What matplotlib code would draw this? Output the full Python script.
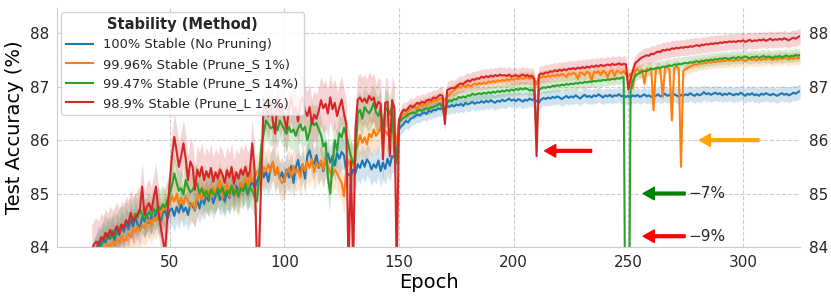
import numpy as np
import matplotlib.pyplot as plt


# data collect (test accuracy per epoch, epochs 16..325)
epochs = np.arange(16, 326)

labels = ["100% Stable (No Pruning)", "99.96% Stable (Prune_S 1%)",
          "99.47% Stable (Prune_S 14%)", "98.9% Stable (Prune_L 14%)"]
colors = ["#1f77b4", "#ff7f0e", "#2ca02c", "#d62728"]

acc_no_pruning = [
    83.70, 83.85, 83.95, 84.10, 84.02, 84.18, 84.08, 84.25, 84.15, 84.30,
    84.12, 84.35, 84.22, 84.40, 84.28, 84.45, 84.33, 84.52, 84.38, 84.57,
    84.42, 84.35, 84.55, 84.48, 84.62, 84.45, 84.58, 84.50, 84.66, 84.55,
    84.48, 84.62, 84.70, 84.52, 84.68, 84.72, 84.58, 84.75, 84.64, 84.80,
    84.66, 84.74, 84.60, 84.82, 84.76, 84.68, 84.88, 84.72, 84.92, 84.80,
    84.95, 84.86, 85.00, 84.82, 84.95, 85.05, 84.88, 84.98, 84.85, 85.02,
    84.92, 85.10, 84.96, 85.15, 85.02, 85.20, 85.05, 85.18, 84.98, 85.12,
    85.25, 85.08, 85.22, 85.35, 85.50, 85.30, 85.42, 85.22, 85.48, 85.57,
    85.35, 85.45, 85.28, 85.40, 85.22, 85.45, 85.30, 85.52, 85.20, 85.48,
    85.63, 85.40, 85.55, 85.28, 85.70, 85.81, 85.62, 85.55, 85.72, 85.48,
    85.60, 85.42, 85.66, 85.75, 85.58, 85.70, 85.52, 85.76, 85.65, 85.78,
    85.72, 85.40, 85.36, 85.32, 85.45, 85.38, 85.55, 85.48, 85.62, 85.50,
    85.64, 85.58, 85.45, 85.55, 85.48, 85.62, 85.42, 85.58, 85.46, 85.65,
    85.52, 85.70, 85.68, 85.72, 86.20, 86.26, 86.30, 86.36, 86.33, 86.40,
    86.42, 86.45, 86.48, 86.46, 86.50, 86.52, 86.49, 86.55, 86.53, 86.57,
    86.56, 86.60, 86.58, 86.62, 86.60, 86.64, 86.62, 86.66, 86.63, 86.67,
    86.65, 86.68, 86.64, 86.70, 86.67, 86.69, 86.72, 86.68, 86.71, 86.70,
    86.73, 86.70, 86.74, 86.71, 86.75, 86.72, 86.70, 86.74, 86.72, 86.76,
    86.73, 86.75, 86.78, 86.74, 86.76, 86.73, 86.77, 86.75, 86.72, 86.76,
    86.74, 86.78, 86.75, 86.77, 86.73, 86.70, 86.76, 86.79, 86.77, 86.80,
    86.78, 86.81, 86.79, 86.82, 86.80, 86.77, 86.80, 86.83, 86.79, 86.82,
    86.80, 86.84, 86.81, 86.78, 86.82, 86.85, 86.81, 86.83, 86.80, 86.84,
    86.82, 86.86, 86.83, 86.80, 86.84, 86.82, 86.85, 86.81, 86.84, 86.83,
    86.86, 86.82, 86.84, 86.81, 86.83, 86.80, 86.84, 86.82, 86.85, 86.81,
    86.83, 86.86, 86.82, 86.84, 86.81, 86.85, 86.83, 86.86, 86.82, 86.84,
    86.87, 86.83, 86.85, 86.82, 86.86, 86.84, 86.81, 86.85, 86.83, 86.86,
    86.84, 86.88, 86.85, 86.83, 86.87, 86.84, 86.86, 86.90, 86.86, 86.88,
    86.85, 86.87, 86.89, 86.86, 86.88, 86.84, 86.87, 86.85, 86.88, 86.86,
    86.84, 86.87, 86.85, 86.89, 86.86, 86.83, 86.87, 86.85, 86.88, 86.84,
    86.86, 86.83, 86.87, 86.85, 86.88, 86.86, 86.84, 86.87, 86.85, 86.83,
    86.86, 86.88, 86.85, 86.87, 86.84, 86.86, 86.89, 86.87, 86.90, 86.92,
]

acc_prune_s1 = [
    83.50, 83.65, 83.75, 83.82, 83.90, 84.00, 83.95, 84.05, 84.00, 84.10,
    84.02, 84.15, 84.08, 84.20, 84.12, 84.13, 84.25, 84.18, 84.32, 84.28,
    84.38, 84.30, 84.42, 84.35, 84.45, 84.52, 84.40, 84.55, 84.48, 84.62,
    84.58, 84.76, 84.70, 84.88, 84.82, 84.95, 84.85, 85.00, 84.78, 84.92,
    84.80, 84.95, 84.86, 84.75, 84.82, 84.70, 84.90, 85.00, 84.88, 85.07,
    84.96, 85.05, 84.92, 85.12, 84.98, 85.15, 85.25, 84.90, 85.10, 85.18,
    84.95, 85.08, 85.15, 85.02, 84.95, 85.20, 85.10, 85.28, 85.14, 85.38,
    85.22, 85.30, 85.40, 85.44, 85.32, 85.50, 85.42, 85.55, 85.40, 85.60,
    85.35, 85.50, 85.28, 85.19, 85.25, 85.40, 85.48, 85.30, 85.52, 85.38,
    85.45, 85.30, 85.55, 85.42, 85.60, 85.48, 85.65, 85.40, 85.58, 85.50,
    85.62, 85.45, 85.68, 85.52, 85.40, 85.33, 85.45, 85.38, 85.28, 85.20,
    84.95, 85.45, 85.58, 85.64, 85.52, 85.75, 85.90, 86.10, 85.95, 86.05,
    85.92, 86.12, 86.05, 86.20, 86.08, 86.15, 86.25, 86.05, 86.18, 86.10,
    86.22, 86.15, 86.20, 85.90, 86.39, 86.45, 86.50, 86.48, 86.55, 86.58,
    86.60, 86.62, 86.58, 86.67, 86.64, 86.68, 86.66, 86.72, 86.70, 86.75,
    86.73, 86.76, 86.78, 86.80, 86.74, 86.82, 86.86, 86.90, 86.93, 86.97,
    87.00, 86.98, 87.02, 87.00, 87.04, 87.01, 87.03, 87.06, 87.04, 87.07,
    87.05, 87.08, 87.06, 87.10, 87.08, 87.11, 87.09, 87.12, 87.10, 87.13,
    87.11, 87.14, 87.12, 87.15, 87.13, 87.16, 87.14, 87.17, 87.15, 87.16,
    87.18, 87.15, 87.17, 87.14, 87.04, 87.19, 87.17, 87.20, 87.18, 87.21,
    87.19, 87.22, 87.20, 87.23, 87.21, 87.24, 87.22, 87.18, 87.25, 87.23,
    87.26, 87.24, 87.15, 87.27, 87.25, 87.22, 87.28, 87.26, 87.12, 87.28,
    87.26, 87.29, 87.22, 87.30, 87.27, 87.18, 87.29, 87.31, 87.20, 87.30,
    87.28, 87.25, 87.30, 87.22, 87.19, 87.25, 86.97, 87.30, 87.33, 87.28,
    87.32, 87.06, 87.34, 87.31, 87.35, 86.56, 87.33, 87.36, 87.32, 86.81,
    87.34, 87.37, 87.33, 86.37, 87.35, 87.38, 87.34, 85.50, 87.30, 87.33,
    87.36, 87.38, 87.40, 87.42, 87.41, 87.44, 87.43, 87.45, 87.44, 87.47,
    87.45, 87.47, 87.46, 87.48, 87.47, 87.49, 87.48, 87.50, 87.49, 87.50,
    87.48, 87.51, 87.49, 87.52, 87.50, 87.48, 87.51, 87.53, 87.50, 87.52,
    87.49, 87.52, 87.50, 87.53, 87.51, 87.54, 87.52, 87.50, 87.53, 87.51,
    87.54, 87.52, 87.55, 87.53, 87.51, 87.54, 87.52, 87.55, 87.53, 87.55,
]

acc_prune_s14 = [
    83.60, 83.75, 83.85, 83.92, 84.02, 84.10, 84.26, 84.15, 84.22, 84.18,
    84.30, 84.24, 84.35, 84.42, 84.38, 84.50, 84.44, 84.58, 84.48, 84.62,
    84.55, 84.70, 84.60, 84.52, 84.57, 84.66, 84.58, 84.72, 84.64, 84.76,
    84.70, 84.80, 84.74, 84.88, 85.00, 85.15, 85.38, 85.20, 85.05, 85.10,
    84.98, 85.25, 85.12, 85.02, 85.07, 85.15, 85.19, 85.00, 85.10, 84.95,
    85.05, 84.92, 85.08, 85.00, 84.96, 85.10, 85.02, 85.12, 84.95, 85.06,
    85.00, 85.15, 84.98, 85.08, 84.94, 85.10, 85.04, 85.18, 85.00, 85.12,
    85.05, 84.95, 84.85, 85.30, 85.90, 86.12, 86.37, 86.30, 86.22, 86.25,
    86.32, 86.18, 86.37, 86.28, 86.20, 86.12, 86.25, 86.15, 86.20, 86.08,
    86.22, 86.30, 86.18, 86.25, 86.00, 86.15, 86.37, 86.28, 86.32, 86.20,
    86.10, 85.88, 85.95, 85.30, 85.00, 85.55, 86.00, 85.80, 86.13, 86.05,
    86.23, 86.10, 85.90, 85.70, 85.57, 85.62, 86.50, 86.57, 86.40, 86.62,
    86.55, 86.50, 86.58, 86.70, 86.52, 86.45, 86.60, 86.20, 86.55, 86.60,
    86.48, 86.64, 85.70, 85.57, 86.33, 86.39, 86.42, 86.45, 86.48, 86.50,
    86.52, 86.50, 86.55, 86.57, 86.55, 86.58, 86.60, 86.58, 86.61, 86.62,
    86.64, 86.66, 86.69, 86.60, 86.44, 86.70, 86.75, 86.73, 86.77, 86.76,
    86.81, 86.79, 86.82, 86.80, 86.84, 86.83, 86.87, 86.85, 86.86, 86.88,
    86.86, 86.89, 86.87, 86.90, 86.88, 86.91, 86.89, 86.92, 86.90, 86.93,
    86.91, 86.94, 86.92, 86.95, 86.93, 86.96, 86.94, 86.97, 86.95, 86.97,
    86.96, 86.93, 86.95, 86.90, 86.12, 86.94, 86.97, 86.99, 86.98, 87.00,
    86.99, 87.02, 87.01, 87.03, 87.02, 87.04, 87.03, 87.05, 87.04, 87.06,
    87.05, 87.07, 87.06, 87.08, 87.07, 87.09, 87.08, 87.10, 87.09, 87.11,
    87.10, 87.12, 87.11, 87.13, 87.12, 87.14, 87.13, 87.15, 87.14, 87.16,
    87.15, 87.17, 87.18, 80.30, 80.10, 86.95, 87.10, 87.20, 87.24, 87.26,
    87.28, 87.30, 87.29, 87.32, 87.34, 87.33, 87.35, 87.36, 87.35, 87.38,
    87.37, 87.39, 87.40, 87.39, 87.42, 87.41, 87.43, 87.42, 87.44, 87.45,
    87.44, 87.46, 87.45, 87.47, 87.48, 87.46, 87.49, 87.48, 87.50, 87.49,
    87.51, 87.50, 87.52, 87.51, 87.53, 87.52, 87.54, 87.53, 87.52, 87.54,
    87.55, 87.53, 87.56, 87.54, 87.55, 87.57, 87.55, 87.53, 87.56, 87.55,
    87.57, 87.54, 87.56, 87.58, 87.55, 87.57, 87.56, 87.54, 87.57, 87.56,
    87.58, 87.55, 87.57, 87.59, 87.56, 87.58, 87.57, 87.60, 87.58, 87.60,
]

acc_prune_l14 = [
    83.95, 84.05, 84.10, 84.02, 84.18, 84.12, 84.26, 84.18, 84.32, 84.22,
    84.30, 84.39, 84.25, 84.42, 84.35, 84.50, 84.42, 84.64, 84.48, 84.55,
    84.62, 84.70, 85.13, 84.60, 84.75, 84.82, 84.68, 84.90, 85.13, 84.70,
    84.40, 84.14, 83.90, 84.60, 85.20, 85.70, 86.06, 85.80, 85.50, 85.70,
    85.94, 85.65, 85.25, 85.60, 85.50, 85.07, 85.45, 85.32, 85.50, 85.25,
    85.42, 85.30, 85.48, 85.22, 85.40, 85.28, 85.45, 85.35, 85.20, 85.44,
    85.30, 85.50, 85.18, 85.40, 85.28, 85.45, 85.35, 85.50, 85.32, 85.42,
    85.94, 85.45, 83.80, 83.95, 85.40, 86.75, 86.60, 86.45, 86.75, 86.35,
    86.12, 86.78, 86.50, 86.65, 86.40, 86.20, 86.60, 86.80, 86.50, 86.62,
    86.35, 86.70, 86.80, 86.55, 86.45, 86.62, 86.30, 86.48, 86.40, 86.55,
    86.75, 86.60, 86.68, 86.50, 86.80, 86.58, 86.70, 86.45, 86.62, 86.76,
    86.50, 86.30, 83.50, 85.60, 83.60, 86.20, 86.76, 86.80, 86.72, 86.78,
    86.70, 86.83, 86.75, 86.80, 86.60, 86.72, 86.68, 85.64, 86.70, 86.72,
    85.70, 86.75, 86.60, 83.50, 86.37, 86.50, 86.57, 86.55, 86.60, 86.65,
    86.62, 86.66, 86.70, 86.68, 86.72, 86.70, 86.74, 86.76, 86.75, 86.80,
    86.78, 86.82, 86.85, 86.83, 86.30, 86.94, 86.96, 86.98, 86.97, 87.00,
    87.04, 87.06, 87.05, 87.09, 87.12, 87.10, 87.14, 87.13, 87.16, 87.15,
    87.19, 87.17, 87.20, 87.18, 87.21, 87.19, 87.22, 87.20, 87.23, 87.21,
    87.22, 87.20, 87.23, 87.19, 87.20, 87.22, 87.19, 87.21, 87.23, 87.20,
    87.22, 87.19, 87.21, 87.15, 85.70, 87.22, 87.25, 87.24, 87.27, 87.26,
    87.29, 87.28, 87.31, 87.29, 87.32, 87.30, 87.33, 87.31, 87.34, 87.33,
    87.35, 87.33, 87.36, 87.34, 87.37, 87.35, 87.38, 87.36, 87.39, 87.37,
    87.40, 87.38, 87.41, 87.39, 87.40, 87.42, 87.40, 87.43, 87.41, 87.42,
    87.44, 87.41, 87.43, 87.42, 86.95, 87.15, 87.30, 87.44, 87.48, 87.52,
    87.55, 87.57, 87.59, 87.58, 87.62, 87.61, 87.64, 87.66, 87.65, 87.69,
    87.68, 87.70, 87.69, 87.72, 87.71, 87.73, 87.72, 87.74, 87.73, 87.75,
    87.74, 87.76, 87.75, 87.77, 87.78, 87.76, 87.79, 87.78, 87.80, 87.79,
    87.81, 87.80, 87.82, 87.81, 87.83, 87.82, 87.84, 87.83, 87.85, 87.84,
    87.85, 87.84, 87.86, 87.85, 87.87, 87.84, 87.86, 87.88, 87.85, 87.87,
    87.86, 87.88, 87.87, 87.89, 87.86, 87.88, 87.90, 87.87, 87.89, 87.88,
    87.90, 87.88, 87.91, 87.89, 87.87, 87.90, 87.92, 87.90, 87.93, 87.95,
]

# std band half width: before / after the lr drop at epoch 150
spread_early = [0.30, 0.35, 0.35, 0.45]
spread_late = [0.14, 0.12, 0.12, 0.15]

series = [acc_no_pruning, acc_prune_s1, acc_prune_s14, acc_prune_l14]


# plot figure
plt.rcParams["font.family"] = "DejaVu Sans"
plt.rcParams["text.color"] = "#262626"

fig = plt.figure(figsize=(8.31, 3.0), dpi=100)
ax = fig.add_axes([0.069, 0.177, 0.894, 0.797])

for y, c, lab, s0, s1 in zip(series, colors, labels, spread_early, spread_late):
    y = np.array(y)
    s = np.where(epochs < 150, s0, s1)
    ax.fill_between(epochs, y - s, y + s, color=c, alpha=0.2, linewidth=0)
    ax.plot(epochs, y, color=c, linewidth=1.5, label=lab)

# drop annotations
arrow = dict(width=2, headwidth=9, headlength=8, shrink=0)
ax.annotate("", xy=(213.5, 85.8), xytext=(234, 85.8),
            arrowprops=dict(facecolor="red", edgecolor="red", **arrow))
ax.annotate("", xy=(281, 86.0), xytext=(307, 86.0),
            arrowprops=dict(facecolor="orange", edgecolor="orange", **arrow))
ax.annotate("\u22127%", xy=(256.5, 85.0), xytext=(276, 85.0), fontsize=11,
            va="center", color="#262626",
            arrowprops=dict(facecolor="green", edgecolor="green", **arrow))
ax.annotate("\u22129%", xy=(256.5, 84.2), xytext=(276, 84.2), fontsize=11,
            va="center", color="#262626",
            arrowprops=dict(facecolor="red", edgecolor="red", **arrow))

ax.set_xlim(1, 325)
ax.set_ylim(84, 88.48)
ax.set_xticks([50, 100, 150, 200, 250, 300])
ax.set_yticks([84, 85, 86, 87, 88])
ax.grid(True, linestyle="--", color="#cccccc", linewidth=0.8)
ax.set_axisbelow(True)
ax.tick_params(length=0, labelsize=11, pad=6, labelright=True, labelcolor="#262626")
for side in ["top", "right"]:
    ax.spines[side].set_visible(False)
for side in ["left", "bottom"]:
    ax.spines[side].set_color("#cccccc")

ax.set_xlabel("Epoch", fontsize=14, labelpad=2)
ax.set_ylabel("Test Accuracy (%)", fontsize=14, labelpad=4)

leg = ax.legend(loc="upper left", fontsize=9.4, title="Stability (Method)",
                title_fontproperties={"weight": "bold", "size": 10.5},
                framealpha=0.85, edgecolor="#cccccc", borderaxespad=0.3)

fig.savefig("out.png", dpi=100)
